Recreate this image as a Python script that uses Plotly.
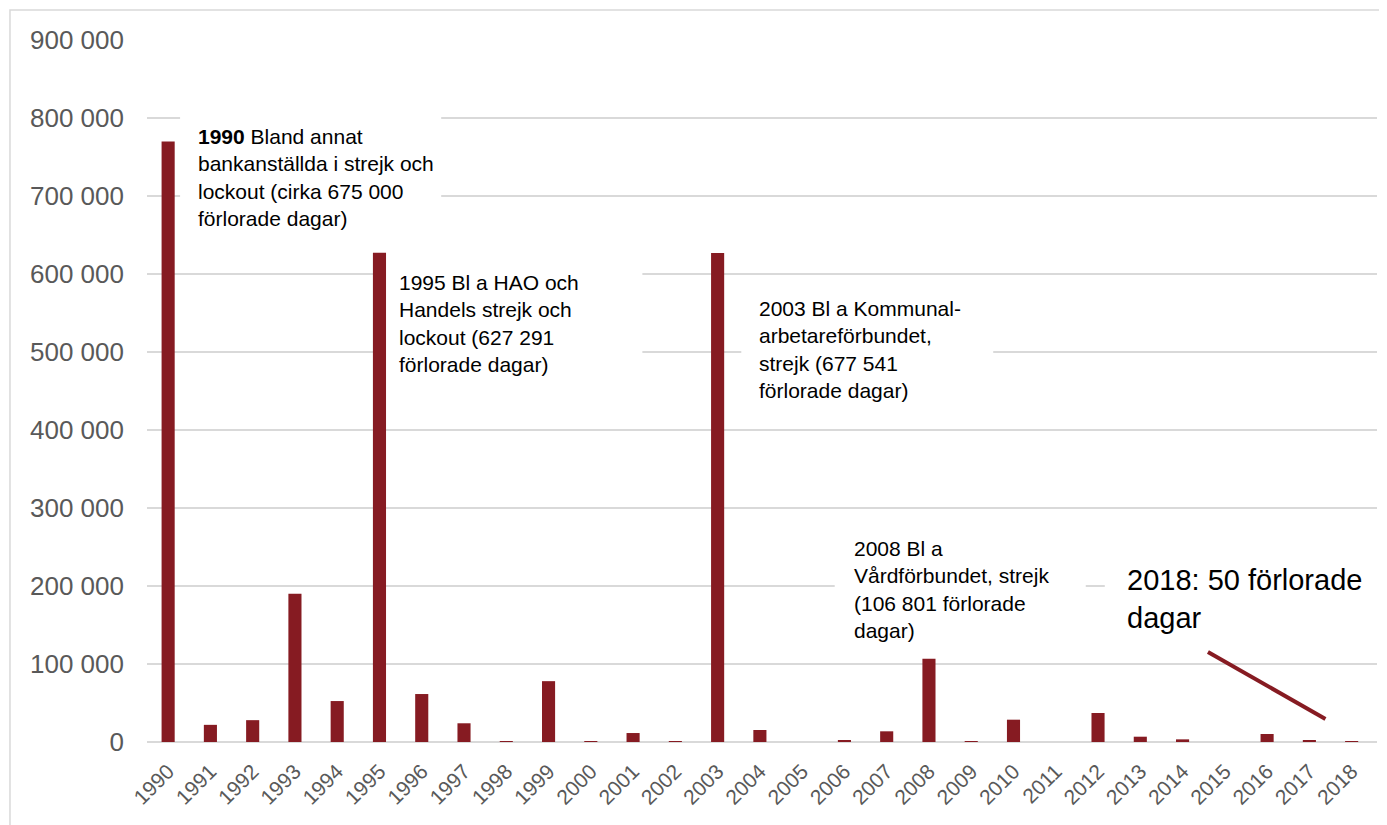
import plotly.graph_objects as go

years = [str(y) for y in range(1990, 2019)]
lost_days = [770000, 22000, 28000, 190000, 52500, 627291, 61500, 24000, 800, 78000,
             200, 11500, 600, 627000, 15400, 0, 2500, 13700, 106801, 700,
             28600, 0, 37200, 6800, 3400, 0, 10300, 2500, 50]

y_tickvals = [0, 100000, 200000, 300000, 400000, 500000, 600000, 700000, 800000, 900000]
y_ticktext = ["0", "100 000", "200 000", "300 000", "400 000", "500 000",
              "600 000", "700 000", "800 000", "900 000"]

# text, x (category index of text left), y (block middle), font size
notes = [
    ("<b>1990</b> Bland annat<br>bankanställda i strejk och<br>lockout (cirka 675 000<br>förlorade dagar)", 0.71, 724000, 21),
    ("1995 Bl a HAO och<br>Handels strejk och<br>lockout (627 291<br>förlorade dagar)", 5.47, 536500, 21),
    ("2003 Bl a Kommunal-<br>arbetareförbundet,<br>strejk (677 541<br>förlorade dagar)", 13.97, 502600, 21),
    ("2008 Bl a<br>Vårdförbundet, strejk<br>(106 801 förlorade<br>dagar)", 16.23, 194900, 21),
    ("2018: 50 förlorade<br>dagar", 22.68, 183300, 29),
]
# white text-box backgrounds (x0, x1 category index; y0, y1 values)
boxes = [
    (0.283, 6.46, 643600, 816700),
    (5.05, 11.22, 438500, 615400),
    (13.56, 19.52, 419200, 585900),
    (15.77, 21.71, 117900, 271800),
    (22.16, 28.6, 130800, 233300),
]

RED = "#861B22"
fig = go.Figure()
fig.add_trace(go.Bar(x=years, y=lost_days, marker_color=RED, marker_line_width=0))

for x0, x1, y0, y1 in boxes:
    fig.add_shape(type="rect", xref="x", yref="y", x0=x0, x1=x1, y0=y0, y1=y1,
                  fillcolor="white", line_width=0, layer="between")

for text, x, y, size in notes:
    fig.add_annotation(x=x, y=y, xref="x", yref="y", text=text, showarrow=False,
                       xanchor="left", yanchor="middle", align="left",
                       font=dict(family="Liberation Sans, Arial", size=size, color="#000000"),
                       borderpad=0, borderwidth=0)

# pointer line to 2018
fig.add_shape(type="line", xref="x", yref="y", x0=24.6, y0=115400, x1=27.38, y1=29500,
              line=dict(color=RED, width=4))

# outer chart border
fig.add_shape(type="rect", xref="paper", yref="paper", x0=-0.1114, y0=-0.3, x1=1.05, y1=1.0427,
              line=dict(color="#d9d9d9", width=1.5), layer="below")

fig.update_layout(
    width=1379, height=817,
    margin=dict(l=139, r=10, t=32, b=83),
    paper_bgcolor="white", plot_bgcolor="white",
    bargap=0.69, showlegend=False,
    font=dict(family="Liberation Sans, Arial", color="#595959"),
)
fig.update_yaxes(range=[0, 900000], tickvals=y_tickvals, ticktext=y_ticktext,
                 tickfont=dict(size=26, color="#595959"), showgrid=True,
                 gridcolor="#d9d9d9", gridwidth=1.5, zeroline=True, zerolinecolor="#d9d9d9",
                 zerolinewidth=1.5, ticklabelstandoff=22, automargin=False, showline=False)
fig.update_xaxes(tickangle=-45, tickfont=dict(size=21, color="#595959"), showgrid=False,
                 automargin=False, showline=False, ticks="", ticklabelstandoff=12)

fig.write_html("out.html")
